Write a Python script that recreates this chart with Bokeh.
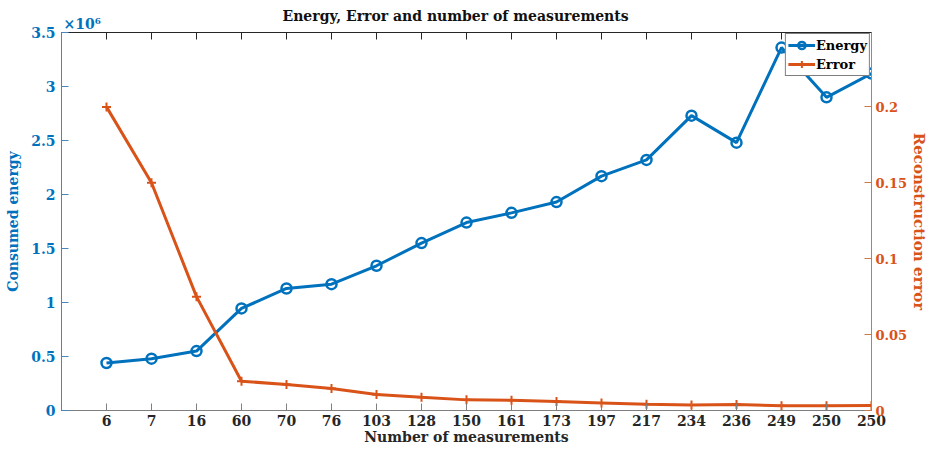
import math
from bokeh.plotting import figure
from bokeh.models import (Range1d, LinearAxis, FixedTicker, Legend, LegendItem)
from bokeh.embed import file_html
from bokeh.resources import INLINE

# ---- data ----
measurements = ["6", "7", "16", "60", "70", "76", "103", "128", "150", "161",
                "173", "197", "217", "234", "236", "249", "250", "250"]
energy = [0.44e6, 0.48e6, 0.55e6, 0.945e6, 1.13e6, 1.17e6, 1.34e6, 1.55e6,
          1.74e6, 1.83e6, 1.93e6, 2.17e6, 2.32e6, 2.73e6, 2.48e6, 3.36e6,
          2.90e6, 3.12e6]
error = [0.200, 0.150, 0.075, 0.0193, 0.0171, 0.0145, 0.0106, 0.0087, 0.0070,
         0.0067, 0.0059, 0.0050, 0.0041, 0.0037, 0.0039, 0.0031, 0.0031, 0.0033]
energy_ticks = [0, 0.5e6, 1e6, 1.5e6, 2e6, 2.5e6, 3e6, 3.5e6]
energy_tick_labels = ["0", "0.5", "1", "1.5", "2", "2.5", "3", "3.5"]
energy_exponent = "\u00d710\u2076"
error_ticks = [0, 0.05, 0.1, 0.15, 0.2]
error_tick_labels = ["0", "0.05", "0.1", "0.15", "0.2"]
error_max = 0.249

xs = list(range(1, len(measurements) + 1))

BLUE = "#0072BD"
ORANGE = "#D95319"
DARK = "#262626"
FONT = "DejaVu Serif"
FS = "14px"

p = figure(width=931, height=448, output_backend="svg", toolbar_location=None,
           x_range=Range1d(0, len(measurements)),
           y_range=Range1d(0, energy_ticks[-1]),
           min_border_left=61, min_border_right=52, min_border_top=32,
           min_border_bottom=38)
p.extra_y_ranges = {"err": Range1d(0, error_max)}

p.grid.visible = False
p.outline_line_color = DARK
p.outline_line_width = 1

# title
p.title.text = "Energy, Error and number of measurements"
p.title.align = "left"
p.title.offset = 221
p.title.standoff = -22
p.title.text_font = FONT
p.title.text_font_size = FS
p.title.text_font_style = "bold"
p.title.text_color = "#111111"


def style_axis(ax, color, line_color, fs=FS, lfs=FS):
    ax.major_label_text_font = FONT
    ax.axis_label_text_font = FONT
    ax.major_label_text_font_size = fs
    ax.major_label_text_font_style = "bold"
    ax.major_label_text_color = color
    ax.axis_label_text_font_size = lfs
    ax.axis_label_text_font_style = "bold"
    ax.axis_label_text_color = color
    ax.axis_line_color = line_color
    ax.major_tick_line_color = line_color
    ax.major_tick_in = 7
    ax.major_tick_out = 0
    ax.minor_tick_line_color = None


# x axis
xa = p.xaxis[0]
xa.ticker = FixedTicker(ticks=xs)
xa.major_label_overrides = {x: m for x, m in zip(xs, measurements)}
xa.axis_label = "Number of measurements"
style_axis(xa, DARK, "#7f7f7f")
xa.major_label_standoff = 4
xa.axis_label_standoff = 0

# top axis: carries only the x10^6 exponent of the energy axis
ta = LinearAxis(ticker=FixedTicker(ticks=[0.46]),
                major_label_overrides={0.46: energy_exponent})
style_axis(ta, BLUE, None)
ta.major_tick_in = 0
ta.major_label_standoff = 1
p.add_layout(ta, "above")

# top mirrored tick marks
p.scatter(xs, [energy_ticks[-1]] * len(xs), marker="dash", angle=math.pi / 2,
          size=14, line_color=DARK, line_width=1)

# left axis
ya = p.yaxis[0]
ya.ticker = FixedTicker(ticks=energy_ticks)
ya.major_label_overrides = {t: l for t, l in zip(energy_ticks, energy_tick_labels)}
ya.axis_label = "Consumed energy"
style_axis(ya, BLUE, "#4a86b8")
ya.major_label_standoff = 6
ya.axis_label_standoff = 7

# right axis
ra = LinearAxis(y_range_name="err", ticker=FixedTicker(ticks=error_ticks),
                major_label_overrides={t: l for t, l in zip(error_ticks, error_tick_labels)},
                axis_label="Reconstruction error")
style_axis(ra, ORANGE, "#c87a4e", fs="13px", lfs="15px")
ra.major_label_standoff = 4
ra.axis_label_standoff = 0
p.add_layout(ra, "right")

# series
e_line = p.line(xs, energy, line_color=BLUE, line_width=3)
e_mark = p.scatter(xs, energy, marker="circle", size=10, line_color=BLUE,
                   line_width=2.5, fill_alpha=0)
r_line = p.line(xs, error, line_color=ORANGE, line_width=3, y_range_name="err")
r_mark = p.scatter(xs, error, marker="cross", size=9, line_color=ORANGE,
                   line_width=2, y_range_name="err")

legend = Legend(items=[LegendItem(label="Energy", renderers=[e_line, e_mark]),
                       LegendItem(label="Error", renderers=[r_line, r_mark])],
                location="top_right")
legend.label_text_font = FONT
legend.label_text_font_size = "13px"
legend.label_text_font_style = "bold"
legend.label_text_color = "#000000"
legend.border_line_color = "#000000"
legend.border_line_width = 1
legend.background_fill_alpha = 1
legend.glyph_width = 27
legend.glyph_height = 18
legend.label_height = 18
legend.label_standoff = 1
legend.padding = 2
legend.spacing = 1
legend.margin = 1
p.add_layout(legend)

open("out.html", "w").write(file_html(p, INLINE))
